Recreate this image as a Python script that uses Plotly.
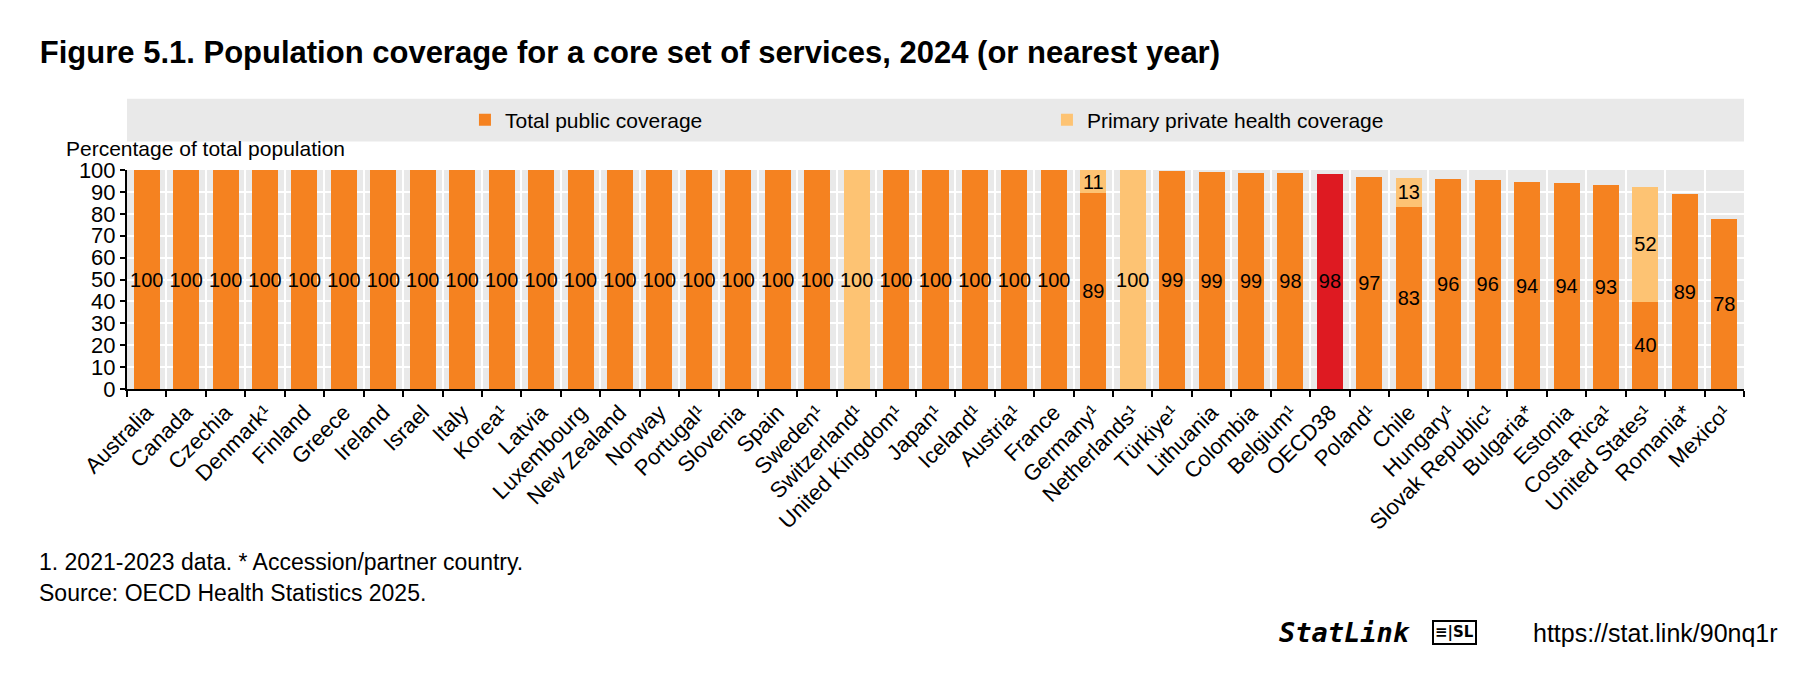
import plotly.graph_objects as go

# categories and values
countries = ['Australia', 'Canada', 'Czechia', 'Denmark¹', 'Finland', 'Greece', 'Ireland',
             'Israel', 'Italy', 'Korea¹', 'Latvia', 'Luxembourg', 'New Zealand', 'Norway',
             'Portugal¹', 'Slovenia', 'Spain', 'Sweden¹', 'Switzerland¹', 'United Kingdom¹',
             'Japan¹', 'Iceland¹', 'Austria¹', 'France', 'Germany¹', 'Netherlands¹', 'Türkiye¹',
             'Lithuania', 'Colombia', 'Belgium¹', 'OECD38', 'Poland¹', 'Chile', 'Hungary¹',
             'Slovak Republic¹', 'Bulgaria*', 'Estonia', 'Costa Rica¹', 'United States¹',
             'Romania*', 'Mexico¹']

public = [100, 100, 100, 100, 100, 100, 100, 100, 100, 100, 100, 100, 100, 100, 100, 100, 100,
          100, 0, 100, 100, 100, 100, 100, 89.4, 0, 99.4, 98.9, 98.6, 98.5, 98.3, 97.0, 83.2,
          96.0, 95.5, 94.5, 94.0, 93.1, 39.8, 88.9, 77.5]

private = [0, 0, 0, 0, 0, 0, 0, 0, 0, 0, 0, 0, 0, 0, 0, 0, 0,
           0, 100, 0, 0, 0, 0, 0, 10.6, 100, 0, 0, 0, 0, 0, 0, 13.3,
           0, 0, 0, 0, 0, 52.4, 0, 0]

ORANGE = '#F58220'
LIGHT = '#FDC373'
RED = '#DE1A22'
GREY = '#E9E9E9'
FONT = 'Liberation Sans Narrow, Arial Narrow, Liberation Sans, Arial, sans-serif'

pub_colors = [RED if c == 'OECD38' else ORANGE for c in countries]
pub_text = [str(round(v)) if v > 0 else '' for v in public]
priv_text = [str(round(v)) if v > 0 else '' for v in private]

data = [
    go.Bar(x=countries, y=public, name='Total public coverage',
           marker=dict(color=pub_colors, line=dict(width=0)),
           text=pub_text, textposition='inside', insidetextanchor='middle',
           textangle=0, textfont=dict(color='black', size=20, family=FONT)),
    go.Bar(x=countries, y=private, name='Primary private health coverage',
           marker=dict(color=LIGHT, line=dict(width=0)),
           text=priv_text, textposition='inside', insidetextanchor='middle',
           textangle=0, textfont=dict(color='black', size=20, family=FONT)),
]

layout = go.Layout(
    width=1807, height=676,
    barmode='stack', bargap=0.34,
    font=dict(family=FONT, size=20, color='black'),
    paper_bgcolor='white', plot_bgcolor=GREY,
    margin=dict(l=119, r=71, t=162, b=295),
    uniformtext=dict(minsize=20, mode='show'),
    title=dict(text='<b>Figure 5.1. Population coverage for a core set of services, 2024 (or nearest year)</b>',
               xref='container', x=0.0176, xanchor='left',
               yref='container', y=0.935, yanchor='middle',
               font=dict(size=31, family=FONT, color='black')),
    xaxis=dict(type='category', tickson='boundaries', showgrid=True, gridcolor='white', gridwidth=2,
               ticks='outside', ticklen=6, tickcolor='black', tickwidth=2,
               showline=True, linecolor='black', linewidth=2,
               tickangle=-45, tickfont=dict(size=22, family=FONT)),
    yaxis=dict(range=[0, 100], dtick=10, showgrid=True, gridcolor='white', gridwidth=2,
               ticks='outside', ticklen=5, tickcolor='black', tickwidth=2,
               showline=True, linecolor='black', linewidth=2, zeroline=False,
               tickfont=dict(size=22, family=FONT)),
    legend=dict(orientation='h', x=0.209, xanchor='left', y=1.228, yanchor='middle',
                bgcolor='rgba(0,0,0,0)', entrywidth=537, entrywidthmode='pixels',
                font=dict(size=21, family=FONT), traceorder='normal'),
    shapes=[dict(type='rect', xref='paper', yref='paper', x0=0, x1=1.0,
                 y0=1.13, y1=1.325, fillcolor=GREY, line=dict(width=0), layer='below')],
    annotations=[
        dict(text='Percentage of total population', xref='paper', yref='paper',
             x=-0.039, y=1.035, xanchor='left', yanchor='bottom', showarrow=False,
             font=dict(size=21)),
        dict(text='1. 2021-2023 data. * Accession/partner country.', xref='paper', yref='paper',
             x=-0.0557, y=-0.790, xanchor='left', yanchor='middle', showarrow=False,
             font=dict(size=23)),
        dict(text='Source: OECD Health Statistics 2025.', xref='paper', yref='paper',
             x=-0.0557, y=-0.932, xanchor='left', yanchor='middle', showarrow=False,
             font=dict(size=23)),
        dict(text='<b><i>StatLink</i></b>', xref='paper', yref='paper',
             x=0.711, y=-1.114, xanchor='left', yanchor='middle', showarrow=False,
             font=dict(size=27, family='DejaVu Sans Mono')),
        dict(text='<b>≡|SL</b>', xref='paper', yref='paper',
             x=0.807, y=-1.114, xanchor='left', yanchor='middle', showarrow=False,
             bordercolor='black', borderwidth=2, borderpad=1,
             font=dict(size=15, family='DejaVu Sans')),
        dict(text='https://stat.link/90nq1r', xref='paper', yref='paper',
             x=0.868, y=-1.114, xanchor='left', yanchor='middle', showarrow=False,
             font=dict(size=25)),
    ],
)

fig = go.Figure(data=data, layout=layout)
fig.write_html('out.html')
